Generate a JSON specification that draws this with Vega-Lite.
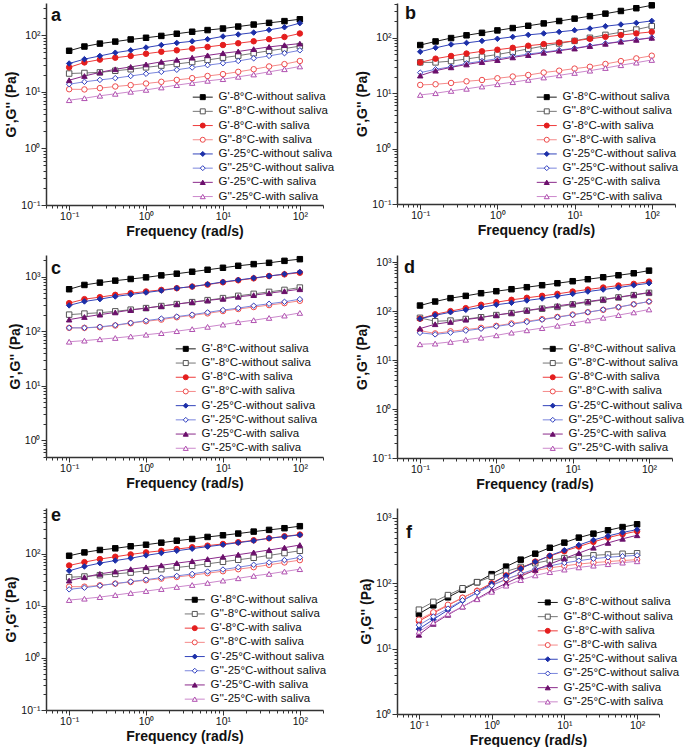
{
"$schema":"https://vega.github.io/schema/vega-lite/v6.json",
"padding":{"left":4,"top":0,"right":3,"bottom":0},
"background":"white",
"datasets":{
"series":[{"s":0,"name":"G'-8°C-without saliva"},{"s":1,"name":"G''-8°C-without saliva"},{"s":2,"name":"G'-8°C-with saliva"},{"s":3,"name":"G''-8°C-with saliva"},{"s":4,"name":"G'-25°C-without saliva"},{"s":5,"name":"G''-25°C-without saliva"},{"s":6,"name":"G'-25°C-with saliva"},{"s":7,"name":"G''-25°C-with saliva"}],
"pts":[
{"p":"a","s":0,"f":0.1,"v":53},{"p":"a","s":0,"f":0.158,"v":63},{"p":"a","s":0,"f":0.251,"v":71},{"p":"a","s":0,"f":0.398,"v":77},{"p":"a","s":0,"f":0.631,"v":84},{"p":"a","s":0,"f":1,"v":90},{"p":"a","s":0,"f":1.58,"v":97},{"p":"a","s":0,"f":2.51,"v":106},{"p":"a","s":0,"f":3.98,"v":115},{"p":"a","s":0,"f":6.31,"v":123},{"p":"a","s":0,"f":10,"v":131},{"p":"a","s":0,"f":15.8,"v":142},{"p":"a","s":0,"f":25.1,"v":154},{"p":"a","s":0,"f":39.8,"v":165},{"p":"a","s":0,"f":63.1,"v":177},{"p":"a","s":0,"f":100,"v":191},
{"p":"a","s":1,"f":0.1,"v":21},{"p":"a","s":1,"f":0.158,"v":21.5},{"p":"a","s":1,"f":0.251,"v":22},{"p":"a","s":1,"f":0.398,"v":23.5},{"p":"a","s":1,"f":0.631,"v":25},{"p":"a","s":1,"f":1,"v":27},{"p":"a","s":1,"f":1.58,"v":29},{"p":"a","s":1,"f":2.51,"v":31},{"p":"a","s":1,"f":3.98,"v":33.5},{"p":"a","s":1,"f":6.31,"v":36.5},{"p":"a","s":1,"f":10,"v":40},{"p":"a","s":1,"f":15.8,"v":43.5},{"p":"a","s":1,"f":25.1,"v":48},{"p":"a","s":1,"f":39.8,"v":53},{"p":"a","s":1,"f":63.1,"v":58},{"p":"a","s":1,"f":100,"v":64},
{"p":"a","s":2,"f":0.1,"v":27},{"p":"a","s":2,"f":0.158,"v":33},{"p":"a","s":2,"f":0.251,"v":37},{"p":"a","s":2,"f":0.398,"v":40},{"p":"a","s":2,"f":0.631,"v":43},{"p":"a","s":2,"f":1,"v":47},{"p":"a","s":2,"f":1.58,"v":51},{"p":"a","s":2,"f":2.51,"v":54},{"p":"a","s":2,"f":3.98,"v":58},{"p":"a","s":2,"f":6.31,"v":62},{"p":"a","s":2,"f":10,"v":67},{"p":"a","s":2,"f":15.8,"v":72},{"p":"a","s":2,"f":25.1,"v":78},{"p":"a","s":2,"f":39.8,"v":85},{"p":"a","s":2,"f":63.1,"v":93},{"p":"a","s":2,"f":100,"v":107},
{"p":"a","s":3,"f":0.1,"v":11.1},{"p":"a","s":3,"f":0.158,"v":11},{"p":"a","s":3,"f":0.251,"v":11.6},{"p":"a","s":3,"f":0.398,"v":12.4},{"p":"a","s":3,"f":0.631,"v":13.1},{"p":"a","s":3,"f":1,"v":14},{"p":"a","s":3,"f":1.58,"v":15},{"p":"a","s":3,"f":2.51,"v":16.2},{"p":"a","s":3,"f":3.98,"v":17.4},{"p":"a","s":3,"f":6.31,"v":19},{"p":"a","s":3,"f":10,"v":20.5},{"p":"a","s":3,"f":15.8,"v":22.5},{"p":"a","s":3,"f":25.1,"v":25},{"p":"a","s":3,"f":39.8,"v":28},{"p":"a","s":3,"f":63.1,"v":30.8},{"p":"a","s":3,"f":100,"v":35},
{"p":"a","s":4,"f":0.1,"v":31.6},{"p":"a","s":4,"f":0.158,"v":37.7},{"p":"a","s":4,"f":0.251,"v":43},{"p":"a","s":4,"f":0.398,"v":49},{"p":"a","s":4,"f":0.631,"v":54},{"p":"a","s":4,"f":1,"v":60.5},{"p":"a","s":4,"f":1.58,"v":67},{"p":"a","s":4,"f":2.51,"v":73},{"p":"a","s":4,"f":3.98,"v":78},{"p":"a","s":4,"f":6.31,"v":85},{"p":"a","s":4,"f":10,"v":95},{"p":"a","s":4,"f":15.8,"v":103},{"p":"a","s":4,"f":25.1,"v":111},{"p":"a","s":4,"f":39.8,"v":124},{"p":"a","s":4,"f":63.1,"v":138},{"p":"a","s":4,"f":100,"v":163},
{"p":"a","s":5,"f":0.1,"v":13.6},{"p":"a","s":5,"f":0.158,"v":15},{"p":"a","s":5,"f":0.251,"v":16.2},{"p":"a","s":5,"f":0.398,"v":17.4},{"p":"a","s":5,"f":0.631,"v":19},{"p":"a","s":5,"f":1,"v":20.8},{"p":"a","s":5,"f":1.58,"v":22.5},{"p":"a","s":5,"f":2.51,"v":24.5},{"p":"a","s":5,"f":3.98,"v":26.8},{"p":"a","s":5,"f":6.31,"v":29.5},{"p":"a","s":5,"f":10,"v":32},{"p":"a","s":5,"f":15.8,"v":35},{"p":"a","s":5,"f":25.1,"v":39},{"p":"a","s":5,"f":39.8,"v":43},{"p":"a","s":5,"f":63.1,"v":48},{"p":"a","s":5,"f":100,"v":54},
{"p":"a","s":6,"f":0.1,"v":16},{"p":"a","s":6,"f":0.158,"v":19},{"p":"a","s":6,"f":0.251,"v":22},{"p":"a","s":6,"f":0.398,"v":25},{"p":"a","s":6,"f":0.631,"v":27.5},{"p":"a","s":6,"f":1,"v":30.4},{"p":"a","s":6,"f":1.58,"v":33.8},{"p":"a","s":6,"f":2.51,"v":36.7},{"p":"a","s":6,"f":3.98,"v":40},{"p":"a","s":6,"f":6.31,"v":44},{"p":"a","s":6,"f":10,"v":48},{"p":"a","s":6,"f":15.8,"v":51.5},{"p":"a","s":6,"f":25.1,"v":56.6},{"p":"a","s":6,"f":39.8,"v":62},{"p":"a","s":6,"f":63.1,"v":66.6},{"p":"a","s":6,"f":100,"v":71},
{"p":"a","s":7,"f":0.1,"v":7.1},{"p":"a","s":7,"f":0.158,"v":7.7},{"p":"a","s":7,"f":0.251,"v":8.5},{"p":"a","s":7,"f":0.398,"v":9.2},{"p":"a","s":7,"f":0.631,"v":10},{"p":"a","s":7,"f":1,"v":10.8},{"p":"a","s":7,"f":1.58,"v":11.9},{"p":"a","s":7,"f":2.51,"v":13.1},{"p":"a","s":7,"f":3.98,"v":14.3},{"p":"a","s":7,"f":6.31,"v":15.6},{"p":"a","s":7,"f":10,"v":16.7},{"p":"a","s":7,"f":15.8,"v":18.4},{"p":"a","s":7,"f":25.1,"v":20.2},{"p":"a","s":7,"f":39.8,"v":22.5},{"p":"a","s":7,"f":63.1,"v":25},{"p":"a","s":7,"f":100,"v":28},
{"p":"b","s":0,"f":0.1,"v":74},{"p":"b","s":0,"f":0.158,"v":86},{"p":"b","s":0,"f":0.251,"v":99},{"p":"b","s":0,"f":0.398,"v":111},{"p":"b","s":0,"f":0.631,"v":123},{"p":"b","s":0,"f":1,"v":136},{"p":"b","s":0,"f":1.58,"v":150},{"p":"b","s":0,"f":2.51,"v":165},{"p":"b","s":0,"f":3.98,"v":182},{"p":"b","s":0,"f":6.31,"v":201},{"p":"b","s":0,"f":10,"v":222},{"p":"b","s":0,"f":15.8,"v":246},{"p":"b","s":0,"f":25.1,"v":273},{"p":"b","s":0,"f":39.8,"v":305},{"p":"b","s":0,"f":63.1,"v":342},{"p":"b","s":0,"f":100,"v":386},
{"p":"b","s":1,"f":0.1,"v":36},{"p":"b","s":1,"f":0.158,"v":36},{"p":"b","s":1,"f":0.251,"v":38},{"p":"b","s":1,"f":0.398,"v":41.5},{"p":"b","s":1,"f":0.631,"v":45.5},{"p":"b","s":1,"f":1,"v":50},{"p":"b","s":1,"f":1.58,"v":56},{"p":"b","s":1,"f":2.51,"v":63},{"p":"b","s":1,"f":3.98,"v":71},{"p":"b","s":1,"f":6.31,"v":79},{"p":"b","s":1,"f":10,"v":88},{"p":"b","s":1,"f":15.8,"v":100},{"p":"b","s":1,"f":25.1,"v":113},{"p":"b","s":1,"f":39.8,"v":126},{"p":"b","s":1,"f":63.1,"v":141},{"p":"b","s":1,"f":100,"v":162},
{"p":"b","s":2,"f":0.1,"v":36},{"p":"b","s":2,"f":0.158,"v":42},{"p":"b","s":2,"f":0.251,"v":47},{"p":"b","s":2,"f":0.398,"v":52},{"p":"b","s":2,"f":0.631,"v":57},{"p":"b","s":2,"f":1,"v":61},{"p":"b","s":2,"f":1.58,"v":66},{"p":"b","s":2,"f":2.51,"v":72},{"p":"b","s":2,"f":3.98,"v":77},{"p":"b","s":2,"f":6.31,"v":82},{"p":"b","s":2,"f":10,"v":88},{"p":"b","s":2,"f":15.8,"v":96},{"p":"b","s":2,"f":25.1,"v":104},{"p":"b","s":2,"f":39.8,"v":112},{"p":"b","s":2,"f":63.1,"v":120},{"p":"b","s":2,"f":100,"v":128},
{"p":"b","s":3,"f":0.1,"v":14.1},{"p":"b","s":3,"f":0.158,"v":14.5},{"p":"b","s":3,"f":0.251,"v":15.3},{"p":"b","s":3,"f":0.398,"v":16.4},{"p":"b","s":3,"f":0.631,"v":17.3},{"p":"b","s":3,"f":1,"v":18.6},{"p":"b","s":3,"f":1.58,"v":20},{"p":"b","s":3,"f":2.51,"v":21.3},{"p":"b","s":3,"f":3.98,"v":23.6},{"p":"b","s":3,"f":6.31,"v":25.5},{"p":"b","s":3,"f":10,"v":27.8},{"p":"b","s":3,"f":15.8,"v":30},{"p":"b","s":3,"f":25.1,"v":33.7},{"p":"b","s":3,"f":39.8,"v":38},{"p":"b","s":3,"f":63.1,"v":42.5},{"p":"b","s":3,"f":100,"v":47.5},
{"p":"b","s":4,"f":0.1,"v":56},{"p":"b","s":4,"f":0.158,"v":66},{"p":"b","s":4,"f":0.251,"v":76},{"p":"b","s":4,"f":0.398,"v":81},{"p":"b","s":4,"f":0.631,"v":88},{"p":"b","s":4,"f":1,"v":96},{"p":"b","s":4,"f":1.58,"v":104},{"p":"b","s":4,"f":2.51,"v":113},{"p":"b","s":4,"f":3.98,"v":120},{"p":"b","s":4,"f":6.31,"v":128},{"p":"b","s":4,"f":10,"v":137},{"p":"b","s":4,"f":15.8,"v":147},{"p":"b","s":4,"f":25.1,"v":162},{"p":"b","s":4,"f":39.8,"v":174},{"p":"b","s":4,"f":63.1,"v":186},{"p":"b","s":4,"f":100,"v":202},
{"p":"b","s":5,"f":0.1,"v":23.5},{"p":"b","s":5,"f":0.158,"v":27},{"p":"b","s":5,"f":0.251,"v":30},{"p":"b","s":5,"f":0.398,"v":34.5},{"p":"b","s":5,"f":0.631,"v":38},{"p":"b","s":5,"f":1,"v":42},{"p":"b","s":5,"f":1.58,"v":46},{"p":"b","s":5,"f":2.51,"v":51},{"p":"b","s":5,"f":3.98,"v":55},{"p":"b","s":5,"f":6.31,"v":60},{"p":"b","s":5,"f":10,"v":65},{"p":"b","s":5,"f":15.8,"v":72},{"p":"b","s":5,"f":25.1,"v":79},{"p":"b","s":5,"f":39.8,"v":86},{"p":"b","s":5,"f":63.1,"v":93},{"p":"b","s":5,"f":100,"v":101},
{"p":"b","s":6,"f":0.1,"v":20.8},{"p":"b","s":6,"f":0.158,"v":25.5},{"p":"b","s":6,"f":0.251,"v":29.3},{"p":"b","s":6,"f":0.398,"v":33},{"p":"b","s":6,"f":0.631,"v":36.5},{"p":"b","s":6,"f":1,"v":39.7},{"p":"b","s":6,"f":1.58,"v":44.3},{"p":"b","s":6,"f":2.51,"v":48.8},{"p":"b","s":6,"f":3.98,"v":53.7},{"p":"b","s":6,"f":6.31,"v":58.4},{"p":"b","s":6,"f":10,"v":64},{"p":"b","s":6,"f":15.8,"v":71},{"p":"b","s":6,"f":25.1,"v":78},{"p":"b","s":6,"f":39.8,"v":85},{"p":"b","s":6,"f":63.1,"v":92},{"p":"b","s":6,"f":100,"v":100},
{"p":"b","s":7,"f":0.1,"v":9.3},{"p":"b","s":7,"f":0.158,"v":10},{"p":"b","s":7,"f":0.251,"v":11},{"p":"b","s":7,"f":0.398,"v":12},{"p":"b","s":7,"f":0.631,"v":13.2},{"p":"b","s":7,"f":1,"v":14.5},{"p":"b","s":7,"f":1.58,"v":15.8},{"p":"b","s":7,"f":2.51,"v":17.4},{"p":"b","s":7,"f":3.98,"v":19.2},{"p":"b","s":7,"f":6.31,"v":21},{"p":"b","s":7,"f":10,"v":23.2},{"p":"b","s":7,"f":15.8,"v":25.5},{"p":"b","s":7,"f":25.1,"v":28.5},{"p":"b","s":7,"f":39.8,"v":32},{"p":"b","s":7,"f":63.1,"v":35.6},{"p":"b","s":7,"f":100,"v":39.8},
{"p":"c","s":0,"f":0.1,"v":588},{"p":"c","s":0,"f":0.158,"v":705},{"p":"c","s":0,"f":0.251,"v":778},{"p":"c","s":0,"f":0.398,"v":846},{"p":"c","s":0,"f":0.631,"v":907},{"p":"c","s":0,"f":1,"v":972},{"p":"c","s":0,"f":1.58,"v":1057},{"p":"c","s":0,"f":2.51,"v":1134},{"p":"c","s":0,"f":3.98,"v":1233},{"p":"c","s":0,"f":6.31,"v":1340},{"p":"c","s":0,"f":10,"v":1457},{"p":"c","s":0,"f":15.8,"v":1585},{"p":"c","s":0,"f":25.1,"v":1700},{"p":"c","s":0,"f":39.8,"v":1797},{"p":"c","s":0,"f":63.1,"v":1953},{"p":"c","s":0,"f":100,"v":2095},
{"p":"c","s":1,"f":0.1,"v":201},{"p":"c","s":1,"f":0.158,"v":210},{"p":"c","s":1,"f":0.251,"v":218},{"p":"c","s":1,"f":0.398,"v":231},{"p":"c","s":1,"f":0.631,"v":248},{"p":"c","s":1,"f":1,"v":265},{"p":"c","s":1,"f":1.58,"v":289},{"p":"c","s":1,"f":2.51,"v":314},{"p":"c","s":1,"f":3.98,"v":341},{"p":"c","s":1,"f":6.31,"v":371},{"p":"c","s":1,"f":10,"v":404},{"p":"c","s":1,"f":15.8,"v":445},{"p":"c","s":1,"f":25.1,"v":484},{"p":"c","s":1,"f":39.8,"v":526},{"p":"c","s":1,"f":63.1,"v":572},{"p":"c","s":1,"f":100,"v":631},
{"p":"c","s":2,"f":0.1,"v":327},{"p":"c","s":2,"f":0.158,"v":387},{"p":"c","s":2,"f":0.251,"v":421},{"p":"c","s":2,"f":0.398,"v":464},{"p":"c","s":2,"f":0.631,"v":498},{"p":"c","s":2,"f":1,"v":534},{"p":"c","s":2,"f":1.58,"v":572},{"p":"c","s":2,"f":2.51,"v":614},{"p":"c","s":2,"f":3.98,"v":658},{"p":"c","s":2,"f":6.31,"v":715},{"p":"c","s":2,"f":10,"v":789},{"p":"c","s":2,"f":15.8,"v":858},{"p":"c","s":2,"f":25.1,"v":932},{"p":"c","s":2,"f":39.8,"v":1028},{"p":"c","s":2,"f":63.1,"v":1103},{"p":"c","s":2,"f":100,"v":1182},
{"p":"c","s":3,"f":0.1,"v":115},{"p":"c","s":3,"f":0.158,"v":115},{"p":"c","s":3,"f":0.251,"v":118},{"p":"c","s":3,"f":0.398,"v":127},{"p":"c","s":3,"f":0.631,"v":140},{"p":"c","s":3,"f":1,"v":152},{"p":"c","s":3,"f":1.58,"v":163},{"p":"c","s":3,"f":2.51,"v":180},{"p":"c","s":3,"f":3.98,"v":195},{"p":"c","s":3,"f":6.31,"v":212},{"p":"c","s":3,"f":10,"v":234},{"p":"c","s":3,"f":15.8,"v":255},{"p":"c","s":3,"f":25.1,"v":277},{"p":"c","s":3,"f":39.8,"v":301},{"p":"c","s":3,"f":63.1,"v":327},{"p":"c","s":3,"f":100,"v":361},
{"p":"c","s":4,"f":0.1,"v":297},{"p":"c","s":4,"f":0.158,"v":351},{"p":"c","s":4,"f":0.251,"v":387},{"p":"c","s":4,"f":0.398,"v":433},{"p":"c","s":4,"f":0.631,"v":471},{"p":"c","s":4,"f":1,"v":512},{"p":"c","s":4,"f":1.58,"v":556},{"p":"c","s":4,"f":2.51,"v":614},{"p":"c","s":4,"f":3.98,"v":658},{"p":"c","s":4,"f":6.31,"v":725},{"p":"c","s":4,"f":10,"v":800},{"p":"c","s":4,"f":15.8,"v":870},{"p":"c","s":4,"f":25.1,"v":946},{"p":"c","s":4,"f":39.8,"v":1028},{"p":"c","s":4,"f":63.1,"v":1118},{"p":"c","s":4,"f":100,"v":1216},
{"p":"c","s":5,"f":0.1,"v":115},{"p":"c","s":5,"f":0.158,"v":115},{"p":"c","s":5,"f":0.251,"v":120},{"p":"c","s":5,"f":0.398,"v":129},{"p":"c","s":5,"f":0.631,"v":142},{"p":"c","s":5,"f":1,"v":156},{"p":"c","s":5,"f":1.58,"v":170},{"p":"c","s":5,"f":2.51,"v":185},{"p":"c","s":5,"f":3.98,"v":201},{"p":"c","s":5,"f":6.31,"v":221},{"p":"c","s":5,"f":10,"v":244},{"p":"c","s":5,"f":15.8,"v":265},{"p":"c","s":5,"f":25.1,"v":293},{"p":"c","s":5,"f":39.8,"v":318},{"p":"c","s":5,"f":63.1,"v":346},{"p":"c","s":5,"f":100,"v":387},
{"p":"c","s":6,"f":0.1,"v":163},{"p":"c","s":6,"f":0.158,"v":182},{"p":"c","s":6,"f":0.251,"v":201},{"p":"c","s":6,"f":0.398,"v":221},{"p":"c","s":6,"f":0.631,"v":244},{"p":"c","s":6,"f":1,"v":265},{"p":"c","s":6,"f":1.58,"v":289},{"p":"c","s":6,"f":2.51,"v":314},{"p":"c","s":6,"f":3.98,"v":341},{"p":"c","s":6,"f":6.31,"v":366},{"p":"c","s":6,"f":10,"v":393},{"p":"c","s":6,"f":15.8,"v":427},{"p":"c","s":6,"f":25.1,"v":458},{"p":"c","s":6,"f":39.8,"v":498},{"p":"c","s":6,"f":63.1,"v":541},{"p":"c","s":6,"f":100,"v":588},
{"p":"c","s":7,"f":0.1,"v":64},{"p":"c","s":7,"f":0.158,"v":67},{"p":"c","s":7,"f":0.251,"v":71},{"p":"c","s":7,"f":0.398,"v":75},{"p":"c","s":7,"f":0.631,"v":80},{"p":"c","s":7,"f":1,"v":86},{"p":"c","s":7,"f":1.58,"v":92},{"p":"c","s":7,"f":2.51,"v":100},{"p":"c","s":7,"f":3.98,"v":109},{"p":"c","s":7,"f":6.31,"v":120},{"p":"c","s":7,"f":10,"v":132},{"p":"c","s":7,"f":15.8,"v":146},{"p":"c","s":7,"f":25.1,"v":159},{"p":"c","s":7,"f":39.8,"v":175},{"p":"c","s":7,"f":63.1,"v":193},{"p":"c","s":7,"f":100,"v":216},
{"p":"d","s":0,"f":0.1,"v":130},{"p":"d","s":0,"f":0.158,"v":157},{"p":"d","s":0,"f":0.251,"v":184},{"p":"d","s":0,"f":0.398,"v":205},{"p":"d","s":0,"f":0.631,"v":232},{"p":"d","s":0,"f":1,"v":255},{"p":"d","s":0,"f":1.58,"v":280},{"p":"d","s":0,"f":2.51,"v":308},{"p":"d","s":0,"f":3.98,"v":338},{"p":"d","s":0,"f":6.31,"v":371},{"p":"d","s":0,"f":10,"v":408},{"p":"d","s":0,"f":15.8,"v":448},{"p":"d","s":0,"f":25.1,"v":491},{"p":"d","s":0,"f":39.8,"v":540},{"p":"d","s":0,"f":63.1,"v":593},{"p":"d","s":0,"f":100,"v":671},
{"p":"d","s":1,"f":0.1,"v":73},{"p":"d","s":1,"f":0.158,"v":62},{"p":"d","s":1,"f":0.251,"v":64},{"p":"d","s":1,"f":0.398,"v":69},{"p":"d","s":1,"f":0.631,"v":75},{"p":"d","s":1,"f":1,"v":83},{"p":"d","s":1,"f":1.58,"v":91},{"p":"d","s":1,"f":2.51,"v":102},{"p":"d","s":1,"f":3.98,"v":112},{"p":"d","s":1,"f":6.31,"v":122},{"p":"d","s":1,"f":10,"v":137},{"p":"d","s":1,"f":15.8,"v":152},{"p":"d","s":1,"f":25.1,"v":170},{"p":"d","s":1,"f":39.8,"v":190},{"p":"d","s":1,"f":63.1,"v":212},{"p":"d","s":1,"f":100,"v":236},
{"p":"d","s":2,"f":0.1,"v":70},{"p":"d","s":2,"f":0.158,"v":86},{"p":"d","s":2,"f":0.251,"v":100},{"p":"d","s":2,"f":0.398,"v":115},{"p":"d","s":2,"f":0.631,"v":135},{"p":"d","s":2,"f":1,"v":152},{"p":"d","s":2,"f":1.58,"v":170},{"p":"d","s":2,"f":2.51,"v":187},{"p":"d","s":2,"f":3.98,"v":205},{"p":"d","s":2,"f":6.31,"v":225},{"p":"d","s":2,"f":10,"v":251},{"p":"d","s":2,"f":15.8,"v":276},{"p":"d","s":2,"f":25.1,"v":303},{"p":"d","s":2,"f":39.8,"v":333},{"p":"d","s":2,"f":63.1,"v":360},{"p":"d","s":2,"f":100,"v":400},
{"p":"d","s":3,"f":0.1,"v":40},{"p":"d","s":3,"f":0.158,"v":35},{"p":"d","s":3,"f":0.251,"v":38.6},{"p":"d","s":3,"f":0.398,"v":42},{"p":"d","s":3,"f":0.631,"v":45.5},{"p":"d","s":3,"f":1,"v":50},{"p":"d","s":3,"f":1.58,"v":56},{"p":"d","s":3,"f":2.51,"v":62},{"p":"d","s":3,"f":3.98,"v":68.5},{"p":"d","s":3,"f":6.31,"v":76},{"p":"d","s":3,"f":10,"v":85},{"p":"d","s":3,"f":15.8,"v":95},{"p":"d","s":3,"f":25.1,"v":106},{"p":"d","s":3,"f":39.8,"v":120},{"p":"d","s":3,"f":63.1,"v":138},{"p":"d","s":3,"f":100,"v":157},
{"p":"d","s":4,"f":0.1,"v":70},{"p":"d","s":4,"f":0.158,"v":82},{"p":"d","s":4,"f":0.251,"v":95},{"p":"d","s":4,"f":0.398,"v":106},{"p":"d","s":4,"f":0.631,"v":120},{"p":"d","s":4,"f":1,"v":135},{"p":"d","s":4,"f":1.58,"v":148},{"p":"d","s":4,"f":2.51,"v":165},{"p":"d","s":4,"f":3.98,"v":181},{"p":"d","s":4,"f":6.31,"v":202},{"p":"d","s":4,"f":10,"v":225},{"p":"d","s":4,"f":15.8,"v":251},{"p":"d","s":4,"f":25.1,"v":276},{"p":"d","s":4,"f":39.8,"v":303},{"p":"d","s":4,"f":63.1,"v":338},{"p":"d","s":4,"f":100,"v":371},
{"p":"d","s":5,"f":0.1,"v":36},{"p":"d","s":5,"f":0.158,"v":33.5},{"p":"d","s":5,"f":0.251,"v":36.3},{"p":"d","s":5,"f":0.398,"v":39.8},{"p":"d","s":5,"f":0.631,"v":43.7},{"p":"d","s":5,"f":1,"v":48.7},{"p":"d","s":5,"f":1.58,"v":54},{"p":"d","s":5,"f":2.51,"v":60},{"p":"d","s":5,"f":3.98,"v":67},{"p":"d","s":5,"f":6.31,"v":75},{"p":"d","s":5,"f":10,"v":84},{"p":"d","s":5,"f":15.8,"v":95},{"p":"d","s":5,"f":25.1,"v":107},{"p":"d","s":5,"f":39.8,"v":121},{"p":"d","s":5,"f":63.1,"v":138},{"p":"d","s":5,"f":100,"v":157},
{"p":"d","s":6,"f":0.1,"v":44},{"p":"d","s":6,"f":0.158,"v":54},{"p":"d","s":6,"f":0.251,"v":60},{"p":"d","s":6,"f":0.398,"v":67},{"p":"d","s":6,"f":0.631,"v":74},{"p":"d","s":6,"f":1,"v":83},{"p":"d","s":6,"f":1.58,"v":92},{"p":"d","s":6,"f":2.51,"v":103},{"p":"d","s":6,"f":3.98,"v":115},{"p":"d","s":6,"f":6.31,"v":128},{"p":"d","s":6,"f":10,"v":141},{"p":"d","s":6,"f":15.8,"v":157},{"p":"d","s":6,"f":25.1,"v":173},{"p":"d","s":6,"f":39.8,"v":193},{"p":"d","s":6,"f":63.1,"v":215},{"p":"d","s":6,"f":100,"v":240},
{"p":"d","s":7,"f":0.1,"v":21},{"p":"d","s":7,"f":0.158,"v":21.7},{"p":"d","s":7,"f":0.251,"v":23.5},{"p":"d","s":7,"f":0.398,"v":26},{"p":"d","s":7,"f":0.631,"v":28.6},{"p":"d","s":7,"f":1,"v":32},{"p":"d","s":7,"f":1.58,"v":36.3},{"p":"d","s":7,"f":2.51,"v":40.5},{"p":"d","s":7,"f":3.98,"v":45},{"p":"d","s":7,"f":6.31,"v":50.3},{"p":"d","s":7,"f":10,"v":57},{"p":"d","s":7,"f":15.8,"v":64.5},{"p":"d","s":7,"f":25.1,"v":73},{"p":"d","s":7,"f":39.8,"v":83},{"p":"d","s":7,"f":63.1,"v":94},{"p":"d","s":7,"f":100,"v":108},
{"p":"e","s":0,"f":0.1,"v":91.5},{"p":"e","s":0,"f":0.158,"v":106},{"p":"e","s":0,"f":0.251,"v":118},{"p":"e","s":0,"f":0.398,"v":127},{"p":"e","s":0,"f":0.631,"v":139},{"p":"e","s":0,"f":1,"v":149},{"p":"e","s":0,"f":1.58,"v":163},{"p":"e","s":0,"f":2.51,"v":178},{"p":"e","s":0,"f":3.98,"v":192},{"p":"e","s":0,"f":6.31,"v":210},{"p":"e","s":0,"f":10,"v":226},{"p":"e","s":0,"f":15.8,"v":244},{"p":"e","s":0,"f":25.1,"v":266},{"p":"e","s":0,"f":39.8,"v":287},{"p":"e","s":0,"f":63.1,"v":309},{"p":"e","s":0,"f":100,"v":338},
{"p":"e","s":1,"f":0.1,"v":35.4},{"p":"e","s":1,"f":0.158,"v":36.5},{"p":"e","s":1,"f":0.251,"v":38.7},{"p":"e","s":1,"f":0.398,"v":41},{"p":"e","s":1,"f":0.631,"v":43.5},{"p":"e","s":1,"f":1,"v":47},{"p":"e","s":1,"f":1.58,"v":50.5},{"p":"e","s":1,"f":2.51,"v":54.4},{"p":"e","s":1,"f":3.98,"v":58.5},{"p":"e","s":1,"f":6.31,"v":64},{"p":"e","s":1,"f":10,"v":70},{"p":"e","s":1,"f":15.8,"v":76.5},{"p":"e","s":1,"f":25.1,"v":83.7},{"p":"e","s":1,"f":39.8,"v":93},{"p":"e","s":1,"f":63.1,"v":103},{"p":"e","s":1,"f":100,"v":114},
{"p":"e","s":2,"f":0.1,"v":59.5},{"p":"e","s":2,"f":0.158,"v":69},{"p":"e","s":2,"f":0.251,"v":79},{"p":"e","s":2,"f":0.398,"v":87.5},{"p":"e","s":2,"f":0.631,"v":97},{"p":"e","s":2,"f":1,"v":106},{"p":"e","s":2,"f":1.58,"v":114},{"p":"e","s":2,"f":2.51,"v":123},{"p":"e","s":2,"f":3.98,"v":133},{"p":"e","s":2,"f":6.31,"v":143},{"p":"e","s":2,"f":10,"v":154},{"p":"e","s":2,"f":15.8,"v":166},{"p":"e","s":2,"f":25.1,"v":181},{"p":"e","s":2,"f":39.8,"v":198},{"p":"e","s":2,"f":63.1,"v":216},{"p":"e","s":2,"f":100,"v":233},
{"p":"e","s":3,"f":0.1,"v":23.3},{"p":"e","s":3,"f":0.158,"v":23.3},{"p":"e","s":3,"f":0.251,"v":24.7},{"p":"e","s":3,"f":0.398,"v":26.7},{"p":"e","s":3,"f":0.631,"v":28.7},{"p":"e","s":3,"f":1,"v":31},{"p":"e","s":3,"f":1.58,"v":33.3},{"p":"e","s":3,"f":2.51,"v":35.8},{"p":"e","s":3,"f":3.98,"v":38.7},{"p":"e","s":3,"f":6.31,"v":42.3},{"p":"e","s":3,"f":10,"v":46.2},{"p":"e","s":3,"f":15.8,"v":50.5},{"p":"e","s":3,"f":25.1,"v":55.2},{"p":"e","s":3,"f":39.8,"v":61.3},{"p":"e","s":3,"f":63.1,"v":68},{"p":"e","s":3,"f":100,"v":75.4},
{"p":"e","s":4,"f":0.1,"v":47},{"p":"e","s":4,"f":0.158,"v":57},{"p":"e","s":4,"f":0.251,"v":66},{"p":"e","s":4,"f":0.398,"v":74},{"p":"e","s":4,"f":0.631,"v":82},{"p":"e","s":4,"f":1,"v":93},{"p":"e","s":4,"f":1.58,"v":103},{"p":"e","s":4,"f":2.51,"v":114},{"p":"e","s":4,"f":3.98,"v":125},{"p":"e","s":4,"f":6.31,"v":137},{"p":"e","s":4,"f":10,"v":149},{"p":"e","s":4,"f":15.8,"v":163},{"p":"e","s":4,"f":25.1,"v":178},{"p":"e","s":4,"f":39.8,"v":198},{"p":"e","s":4,"f":63.1,"v":213},{"p":"e","s":4,"f":100,"v":230},
{"p":"e","s":5,"f":0.1,"v":20.7},{"p":"e","s":5,"f":0.158,"v":22.3},{"p":"e","s":5,"f":0.251,"v":24.4},{"p":"e","s":5,"f":0.398,"v":26.7},{"p":"e","s":5,"f":0.631,"v":29.2},{"p":"e","s":5,"f":1,"v":31.8},{"p":"e","s":5,"f":1.58,"v":34.8},{"p":"e","s":5,"f":2.51,"v":37.5},{"p":"e","s":5,"f":3.98,"v":41},{"p":"e","s":5,"f":6.31,"v":45.5},{"p":"e","s":5,"f":10,"v":49.7},{"p":"e","s":5,"f":15.8,"v":55},{"p":"e","s":5,"f":25.1,"v":61.3},{"p":"e","s":5,"f":39.8,"v":68},{"p":"e","s":5,"f":63.1,"v":75.4},{"p":"e","s":5,"f":100,"v":85},
{"p":"e","s":6,"f":0.1,"v":30.5},{"p":"e","s":6,"f":0.158,"v":35.4},{"p":"e","s":6,"f":0.251,"v":41},{"p":"e","s":6,"f":0.398,"v":45.5},{"p":"e","s":6,"f":0.631,"v":50.5},{"p":"e","s":6,"f":1,"v":55},{"p":"e","s":6,"f":1.58,"v":60},{"p":"e","s":6,"f":2.51,"v":66},{"p":"e","s":6,"f":3.98,"v":72},{"p":"e","s":6,"f":6.31,"v":79},{"p":"e","s":6,"f":10,"v":87.5},{"p":"e","s":6,"f":15.8,"v":96},{"p":"e","s":6,"f":25.1,"v":106},{"p":"e","s":6,"f":39.8,"v":118},{"p":"e","s":6,"f":63.1,"v":131},{"p":"e","s":6,"f":100,"v":147},
{"p":"e","s":7,"f":0.1,"v":12.9},{"p":"e","s":7,"f":0.158,"v":13.7},{"p":"e","s":7,"f":0.251,"v":14.7},{"p":"e","s":7,"f":0.398,"v":16.1},{"p":"e","s":7,"f":0.631,"v":17.6},{"p":"e","s":7,"f":1,"v":19.2},{"p":"e","s":7,"f":1.58,"v":21},{"p":"e","s":7,"f":2.51,"v":23},{"p":"e","s":7,"f":3.98,"v":25.1},{"p":"e","s":7,"f":6.31,"v":27.5},{"p":"e","s":7,"f":10,"v":30.5},{"p":"e","s":7,"f":15.8,"v":33.8},{"p":"e","s":7,"f":25.1,"v":37.5},{"p":"e","s":7,"f":39.8,"v":41},{"p":"e","s":7,"f":63.1,"v":45.5},{"p":"e","s":7,"f":100,"v":50.5},
{"p":"f","s":0,"f":0.1,"v":34},{"p":"f","s":0,"f":0.158,"v":46},{"p":"f","s":0,"f":0.251,"v":61},{"p":"f","s":0,"f":0.398,"v":80},{"p":"f","s":0,"f":0.631,"v":104},{"p":"f","s":0,"f":1,"v":138},{"p":"f","s":0,"f":1.58,"v":180},{"p":"f","s":0,"f":2.51,"v":230},{"p":"f","s":0,"f":3.98,"v":284},{"p":"f","s":0,"f":6.31,"v":350},{"p":"f","s":0,"f":10,"v":419},{"p":"f","s":0,"f":15.8,"v":500},{"p":"f","s":0,"f":25.1,"v":575},{"p":"f","s":0,"f":39.8,"v":647},{"p":"f","s":0,"f":63.1,"v":725},{"p":"f","s":0,"f":100,"v":800},
{"p":"f","s":1,"f":0.1,"v":39.5},{"p":"f","s":1,"f":0.158,"v":52},{"p":"f","s":1,"f":0.251,"v":66},{"p":"f","s":1,"f":0.398,"v":84},{"p":"f","s":1,"f":0.631,"v":104},{"p":"f","s":1,"f":1,"v":126},{"p":"f","s":1,"f":1.58,"v":152},{"p":"f","s":1,"f":2.51,"v":178},{"p":"f","s":1,"f":3.98,"v":203},{"p":"f","s":1,"f":6.31,"v":225},{"p":"f","s":1,"f":10,"v":243},{"p":"f","s":1,"f":15.8,"v":257},{"p":"f","s":1,"f":25.1,"v":268},{"p":"f","s":1,"f":39.8,"v":276},{"p":"f","s":1,"f":63.1,"v":283},{"p":"f","s":1,"f":100,"v":288},
{"p":"f","s":2,"f":0.1,"v":26.3},{"p":"f","s":2,"f":0.158,"v":35},{"p":"f","s":2,"f":0.251,"v":46},{"p":"f","s":2,"f":0.398,"v":60},{"p":"f","s":2,"f":0.631,"v":77},{"p":"f","s":2,"f":1,"v":100},{"p":"f","s":2,"f":1.58,"v":132},{"p":"f","s":2,"f":2.51,"v":170},{"p":"f","s":2,"f":3.98,"v":215},{"p":"f","s":2,"f":6.31,"v":262},{"p":"f","s":2,"f":10,"v":310},{"p":"f","s":2,"f":15.8,"v":365},{"p":"f","s":2,"f":25.1,"v":430},{"p":"f","s":2,"f":39.8,"v":500},{"p":"f","s":2,"f":63.1,"v":565},{"p":"f","s":2,"f":100,"v":626},
{"p":"f","s":3,"f":0.1,"v":27.8},{"p":"f","s":3,"f":0.158,"v":36},{"p":"f","s":3,"f":0.251,"v":47},{"p":"f","s":3,"f":0.398,"v":60},{"p":"f","s":3,"f":0.631,"v":76},{"p":"f","s":3,"f":1,"v":95},{"p":"f","s":3,"f":1.58,"v":115},{"p":"f","s":3,"f":2.51,"v":137},{"p":"f","s":3,"f":3.98,"v":157},{"p":"f","s":3,"f":6.31,"v":172},{"p":"f","s":3,"f":10,"v":185},{"p":"f","s":3,"f":15.8,"v":197},{"p":"f","s":3,"f":25.1,"v":207},{"p":"f","s":3,"f":39.8,"v":215},{"p":"f","s":3,"f":63.1,"v":223},{"p":"f","s":3,"f":100,"v":230},
{"p":"f","s":4,"f":0.1,"v":19.9},{"p":"f","s":4,"f":0.158,"v":28},{"p":"f","s":4,"f":0.251,"v":39},{"p":"f","s":4,"f":0.398,"v":54},{"p":"f","s":4,"f":0.631,"v":72},{"p":"f","s":4,"f":1,"v":98},{"p":"f","s":4,"f":1.58,"v":130},{"p":"f","s":4,"f":2.51,"v":168},{"p":"f","s":4,"f":3.98,"v":213},{"p":"f","s":4,"f":6.31,"v":265},{"p":"f","s":4,"f":10,"v":320},{"p":"f","s":4,"f":15.8,"v":385},{"p":"f","s":4,"f":25.1,"v":460},{"p":"f","s":4,"f":39.8,"v":530},{"p":"f","s":4,"f":63.1,"v":600},{"p":"f","s":4,"f":100,"v":663},
{"p":"f","s":5,"f":0.1,"v":22.9},{"p":"f","s":5,"f":0.158,"v":31},{"p":"f","s":5,"f":0.251,"v":41},{"p":"f","s":5,"f":0.398,"v":55},{"p":"f","s":5,"f":0.631,"v":72},{"p":"f","s":5,"f":1,"v":92},{"p":"f","s":5,"f":1.58,"v":115},{"p":"f","s":5,"f":2.51,"v":140},{"p":"f","s":5,"f":3.98,"v":165},{"p":"f","s":5,"f":6.31,"v":185},{"p":"f","s":5,"f":10,"v":205},{"p":"f","s":5,"f":15.8,"v":222},{"p":"f","s":5,"f":25.1,"v":238},{"p":"f","s":5,"f":39.8,"v":250},{"p":"f","s":5,"f":63.1,"v":260},{"p":"f","s":5,"f":100,"v":268},
{"p":"f","s":6,"f":0.1,"v":16.3},{"p":"f","s":6,"f":0.158,"v":24},{"p":"f","s":6,"f":0.251,"v":33},{"p":"f","s":6,"f":0.398,"v":44},{"p":"f","s":6,"f":0.631,"v":58},{"p":"f","s":6,"f":1,"v":78},{"p":"f","s":6,"f":1.58,"v":100},{"p":"f","s":6,"f":2.51,"v":128},{"p":"f","s":6,"f":3.98,"v":160},{"p":"f","s":6,"f":6.31,"v":197},{"p":"f","s":6,"f":10,"v":240},{"p":"f","s":6,"f":15.8,"v":290},{"p":"f","s":6,"f":25.1,"v":350},{"p":"f","s":6,"f":39.8,"v":415},{"p":"f","s":6,"f":63.1,"v":480},{"p":"f","s":6,"f":100,"v":543},
{"p":"f","s":7,"f":0.1,"v":18.1},{"p":"f","s":7,"f":0.158,"v":25},{"p":"f","s":7,"f":0.251,"v":34},{"p":"f","s":7,"f":0.398,"v":44},{"p":"f","s":7,"f":0.631,"v":57},{"p":"f","s":7,"f":1,"v":74},{"p":"f","s":7,"f":1.58,"v":92},{"p":"f","s":7,"f":2.51,"v":112},{"p":"f","s":7,"f":3.98,"v":132},{"p":"f","s":7,"f":6.31,"v":148},{"p":"f","s":7,"f":10,"v":162},{"p":"f","s":7,"f":15.8,"v":175},{"p":"f","s":7,"f":25.1,"v":186},{"p":"f","s":7,"f":39.8,"v":196},{"p":"f","s":7,"f":63.1,"v":207},{"p":"f","s":7,"f":100,"v":217}
]},
"data":{"name":"pts"},
"columns":2,
"spacing":{"row":15,"column":20},
"resolve":{"legend":{"color":"independent","stroke":"independent","fill":"independent","shape":"independent"}},
"concat":[
{"width":277,"height":202,
"title":{"text":"a","anchor":"start","frame":"group","offset":-22,"dx":5},
"transform":[{"filter":"datum.p==='a'"},{"lookup":"s","from":{"data":{"name":"series"},"key":"s","fields":["name"]}}],
"encoding":{
"x":{"field":"f","type":"quantitative","scale":{"type":"log","domain":[0.05,200],"nice":false},"axis":{"title":"Frequency (rad/s)","values":[0.05,0.06,0.07,0.08,0.09,0.1,0.2,0.3,0.4,0.5,0.6,0.7,0.8,0.9,1,2,3,4,5,6,7,8,9,10,20,30,40,50,60,70,80,90,100,200],"labelExpr":"abs(log(datum.value)/LN10-round(log(datum.value)/LN10))<0.01?'10'+['⁻¹','⁰','¹','²','³'][round(log(datum.value)/LN10)+1]:''","labelFontSize":{"condition":{"test":"abs(log(datum.value)/LN10-round(log(datum.value)/LN10))<0.01","value":10.5},"value":0},"tickSize":{"condition":{"test":"abs(log(datum.value)/LN10-round(log(datum.value)/LN10))<0.01","value":5},"value":3}}},
"y":{"field":"v","type":"quantitative","scale":{"type":"log","domain":[0.1,370],"nice":false},"axis":{"title":"G',G'' (Pa)","values":[0.1,0.2,0.3,0.4,0.5,0.6,0.7,0.8,0.9,1,2,3,4,5,6,7,8,9,10,20,30,40,50,60,70,80,90,100,200,300],"labelExpr":"abs(log(datum.value)/LN10-round(log(datum.value)/LN10))<0.01?'10'+['⁻¹','⁰','¹','²','³'][round(log(datum.value)/LN10)+1]:''","labelFontSize":{"condition":{"test":"abs(log(datum.value)/LN10-round(log(datum.value)/LN10))<0.01","value":10.5},"value":0},"tickSize":{"condition":{"test":"abs(log(datum.value)/LN10-round(log(datum.value)/LN10))<0.01","value":5},"value":3}}}},
"layer":[
{"mark":{"type":"line","strokeWidth":1},"encoding":{"color":{"field":"name","type":"nominal","sort":{"field":"s","op":"min"},"scale":{"range":["#1a1a1a","#777777","#ef3b3b","#f58a8a","#3344bb","#7b86dd","#8b2a8b","#cc88cc"]},"legend":{"title":null,"orient":"none","legendX":151,"legendY":88.4,"symbolType":"M-4,0H4","labelOpacity":0}}}},
{"mark":{"type":"point","size":30,"strokeWidth":1,"opacity":1},"encoding":{
"stroke":{"field":"name","type":"nominal","scale":{"domain":["G'-8°C-without saliva","G''-8°C-without saliva","G'-8°C-with saliva","G''-8°C-with saliva","G'-25°C-without saliva","G''-25°C-without saliva","G'-25°C-with saliva","G''-25°C-with saliva"],"range":["#000000","#555555","#e41e1e","#ee4a4a","#1c2fa8","#3040c0","#6b0f6b","#b050b0"]},"legend":{"title":null,"orient":"none","legendX":151,"legendY":88.4}},
"fill":{"field":"name","type":"nominal","scale":{"domain":["G'-8°C-without saliva","G''-8°C-without saliva","G'-8°C-with saliva","G''-8°C-with saliva","G'-25°C-without saliva","G''-25°C-without saliva","G'-25°C-with saliva","G''-25°C-with saliva"],"range":["#000000","#ffffff","#e41e1e","#ffffff","#1c2fa8","#ffffff","#6b0f6b","#ffffff"]},"legend":{"title":null,"orient":"none","legendX":151,"legendY":88.4}},
"shape":{"field":"name","type":"nominal","scale":{"domain":["G'-8°C-without saliva","G''-8°C-without saliva","G'-8°C-with saliva","G''-8°C-with saliva","G'-25°C-without saliva","G''-25°C-without saliva","G'-25°C-with saliva","G''-25°C-with saliva"],"range":["square","square","circle","circle","diamond","diamond","triangle-up","triangle-up"]},"legend":{"title":null,"orient":"none","legendX":151,"legendY":88.4}}}}
]},
{"width":278,"height":201,
"title":{"text":"b","anchor":"start","frame":"group","offset":-22,"dx":8},
"transform":[{"filter":"datum.p==='b'"},{"lookup":"s","from":{"data":{"name":"series"},"key":"s","fields":["name"]}}],
"encoding":{
"x":{"field":"f","type":"quantitative","scale":{"type":"log","domain":[0.05,200],"nice":false},"axis":{"title":"Frequency (rad/s)","values":[0.05,0.06,0.07,0.08,0.09,0.1,0.2,0.3,0.4,0.5,0.6,0.7,0.8,0.9,1,2,3,4,5,6,7,8,9,10,20,30,40,50,60,70,80,90,100,200],"labelExpr":"abs(log(datum.value)/LN10-round(log(datum.value)/LN10))<0.01?'10'+['⁻¹','⁰','¹','²','³'][round(log(datum.value)/LN10)+1]:''","labelFontSize":{"condition":{"test":"abs(log(datum.value)/LN10-round(log(datum.value)/LN10))<0.01","value":10.5},"value":0},"tickSize":{"condition":{"test":"abs(log(datum.value)/LN10-round(log(datum.value)/LN10))<0.01","value":5},"value":3}}},
"y":{"field":"v","type":"quantitative","scale":{"type":"log","domain":[0.1,425],"nice":false},"axis":{"title":"G',G'' (Pa)","values":[0.1,0.2,0.3,0.4,0.5,0.6,0.7,0.8,0.9,1,2,3,4,5,6,7,8,9,10,20,30,40,50,60,70,80,90,100,200,300,400],"labelExpr":"abs(log(datum.value)/LN10-round(log(datum.value)/LN10))<0.01?'10'+['⁻¹','⁰','¹','²','³'][round(log(datum.value)/LN10)+1]:''","labelFontSize":{"condition":{"test":"abs(log(datum.value)/LN10-round(log(datum.value)/LN10))<0.01","value":10.5},"value":0},"tickSize":{"condition":{"test":"abs(log(datum.value)/LN10-round(log(datum.value)/LN10))<0.01","value":5},"value":3}}}},
"layer":[
{"mark":{"type":"line","strokeWidth":1},"encoding":{"color":{"field":"name","type":"nominal","sort":{"field":"s","op":"min"},"scale":{"range":["#1a1a1a","#777777","#ef3b3b","#f58a8a","#3344bb","#7b86dd","#8b2a8b","#cc88cc"]},"legend":{"title":null,"orient":"none","legendX":144,"legendY":88.4,"symbolType":"M-4,0H4","labelOpacity":0}}}},
{"mark":{"type":"point","size":30,"strokeWidth":1,"opacity":1},"encoding":{
"stroke":{"field":"name","type":"nominal","scale":{"domain":["G'-8°C-without saliva","G''-8°C-without saliva","G'-8°C-with saliva","G''-8°C-with saliva","G'-25°C-without saliva","G''-25°C-without saliva","G'-25°C-with saliva","G''-25°C-with saliva"],"range":["#000000","#555555","#e41e1e","#ee4a4a","#1c2fa8","#3040c0","#6b0f6b","#b050b0"]},"legend":{"title":null,"orient":"none","legendX":144,"legendY":88.4}},
"fill":{"field":"name","type":"nominal","scale":{"domain":["G'-8°C-without saliva","G''-8°C-without saliva","G'-8°C-with saliva","G''-8°C-with saliva","G'-25°C-without saliva","G''-25°C-without saliva","G'-25°C-with saliva","G''-25°C-with saliva"],"range":["#000000","#ffffff","#e41e1e","#ffffff","#1c2fa8","#ffffff","#6b0f6b","#ffffff"]},"legend":{"title":null,"orient":"none","legendX":144,"legendY":88.4}},
"shape":{"field":"name","type":"nominal","scale":{"domain":["G'-8°C-without saliva","G''-8°C-without saliva","G'-8°C-with saliva","G''-8°C-with saliva","G'-25°C-without saliva","G''-25°C-without saliva","G'-25°C-with saliva","G''-25°C-with saliva"],"range":["square","square","circle","circle","diamond","diamond","triangle-up","triangle-up"]},"legend":{"title":null,"orient":"none","legendX":144,"legendY":88.4}}}}
]},
{"width":277,"height":202,
"title":{"text":"c","anchor":"start","frame":"group","offset":-24,"dx":5},
"transform":[{"filter":"datum.p==='c'"},{"lookup":"s","from":{"data":{"name":"series"},"key":"s","fields":["name"]}}],
"encoding":{
"x":{"field":"f","type":"quantitative","scale":{"type":"log","domain":[0.05,200],"nice":false},"axis":{"title":"Frequency (rad/s)","values":[0.05,0.06,0.07,0.08,0.09,0.1,0.2,0.3,0.4,0.5,0.6,0.7,0.8,0.9,1,2,3,4,5,6,7,8,9,10,20,30,40,50,60,70,80,90,100,200],"labelExpr":"abs(log(datum.value)/LN10-round(log(datum.value)/LN10))<0.01?'10'+['⁻¹','⁰','¹','²','³'][round(log(datum.value)/LN10)+1]:''","labelFontSize":{"condition":{"test":"abs(log(datum.value)/LN10-round(log(datum.value)/LN10))<0.01","value":10.5},"value":0},"tickSize":{"condition":{"test":"abs(log(datum.value)/LN10-round(log(datum.value)/LN10))<0.01","value":5},"value":3}}},
"y":{"field":"v","type":"quantitative","scale":{"type":"log","domain":[0.49,2500],"nice":false},"axis":{"title":"G',G'' (Pa)","values":[0.5,0.6,0.7,0.8,0.9,1,2,3,4,5,6,7,8,9,10,20,30,40,50,60,70,80,90,100,200,300,400,500,600,700,800,900,1000,2000],"labelExpr":"abs(log(datum.value)/LN10-round(log(datum.value)/LN10))<0.01?'10'+['⁻¹','⁰','¹','²','³'][round(log(datum.value)/LN10)+1]:''","labelFontSize":{"condition":{"test":"abs(log(datum.value)/LN10-round(log(datum.value)/LN10))<0.01","value":10.5},"value":0},"tickSize":{"condition":{"test":"abs(log(datum.value)/LN10-round(log(datum.value)/LN10))<0.01","value":5},"value":3}}}},
"layer":[
{"mark":{"type":"line","strokeWidth":1},"encoding":{"color":{"field":"name","type":"nominal","sort":{"field":"s","op":"min"},"scale":{"range":["#1a1a1a","#777777","#ef3b3b","#f58a8a","#3344bb","#7b86dd","#8b2a8b","#cc88cc"]},"legend":{"title":null,"orient":"none","legendX":134,"legendY":88.1,"symbolType":"M-4,0H4","labelOpacity":0}}}},
{"mark":{"type":"point","size":30,"strokeWidth":1,"opacity":1},"encoding":{
"stroke":{"field":"name","type":"nominal","scale":{"domain":["G'-8°C-without saliva","G''-8°C-without saliva","G'-8°C-with saliva","G''-8°C-with saliva","G'-25°C-without saliva","G''-25°C-without saliva","G'-25°C-with saliva","G''-25°C-with saliva"],"range":["#000000","#555555","#e41e1e","#ee4a4a","#1c2fa8","#3040c0","#6b0f6b","#b050b0"]},"legend":{"title":null,"orient":"none","legendX":134,"legendY":88.1}},
"fill":{"field":"name","type":"nominal","scale":{"domain":["G'-8°C-without saliva","G''-8°C-without saliva","G'-8°C-with saliva","G''-8°C-with saliva","G'-25°C-without saliva","G''-25°C-without saliva","G'-25°C-with saliva","G''-25°C-with saliva"],"range":["#000000","#ffffff","#e41e1e","#ffffff","#1c2fa8","#ffffff","#6b0f6b","#ffffff"]},"legend":{"title":null,"orient":"none","legendX":134,"legendY":88.1}},
"shape":{"field":"name","type":"nominal","scale":{"domain":["G'-8°C-without saliva","G''-8°C-without saliva","G'-8°C-with saliva","G''-8°C-with saliva","G'-25°C-without saliva","G''-25°C-without saliva","G'-25°C-with saliva","G''-25°C-with saliva"],"range":["square","square","circle","circle","diamond","diamond","triangle-up","triangle-up"]},"legend":{"title":null,"orient":"none","legendX":134,"legendY":88.1}}}}
]},
{"width":275,"height":203,
"title":{"text":"d","anchor":"start","frame":"group","offset":-22,"dx":7},
"transform":[{"filter":"datum.p==='d'"},{"lookup":"s","from":{"data":{"name":"series"},"key":"s","fields":["name"]}}],
"encoding":{
"x":{"field":"f","type":"quantitative","scale":{"type":"log","domain":[0.05,200],"nice":false},"axis":{"title":"Frequency (rad/s)","values":[0.05,0.06,0.07,0.08,0.09,0.1,0.2,0.3,0.4,0.5,0.6,0.7,0.8,0.9,1,2,3,4,5,6,7,8,9,10,20,30,40,50,60,70,80,90,100,200],"labelExpr":"abs(log(datum.value)/LN10-round(log(datum.value)/LN10))<0.01?'10'+['⁻¹','⁰','¹','²','³'][round(log(datum.value)/LN10)+1]:''","labelFontSize":{"condition":{"test":"abs(log(datum.value)/LN10-round(log(datum.value)/LN10))<0.01","value":10.5},"value":0},"tickSize":{"condition":{"test":"abs(log(datum.value)/LN10-round(log(datum.value)/LN10))<0.01","value":5},"value":3}}},
"y":{"field":"v","type":"quantitative","scale":{"type":"log","domain":[0.1,1400],"nice":false},"axis":{"title":"G',G'' (Pa)","values":[0.1,0.2,0.3,0.4,0.5,0.6,0.7,0.8,0.9,1,2,3,4,5,6,7,8,9,10,20,30,40,50,60,70,80,90,100,200,300,400,500,600,700,800,900,1000],"labelExpr":"abs(log(datum.value)/LN10-round(log(datum.value)/LN10))<0.01?'10'+['⁻¹','⁰','¹','²','³'][round(log(datum.value)/LN10)+1]:''","labelFontSize":{"condition":{"test":"abs(log(datum.value)/LN10-round(log(datum.value)/LN10))<0.01","value":10.5},"value":0},"tickSize":{"condition":{"test":"abs(log(datum.value)/LN10-round(log(datum.value)/LN10))<0.01","value":5},"value":3}}}},
"layer":[
{"mark":{"type":"line","strokeWidth":1},"encoding":{"color":{"field":"name","type":"nominal","sort":{"field":"s","op":"min"},"scale":{"range":["#1a1a1a","#777777","#ef3b3b","#f58a8a","#3344bb","#7b86dd","#8b2a8b","#cc88cc"]},"legend":{"title":null,"orient":"none","legendX":150,"legendY":88.1,"symbolType":"M-4,0H4","labelOpacity":0}}}},
{"mark":{"type":"point","size":30,"strokeWidth":1,"opacity":1},"encoding":{
"stroke":{"field":"name","type":"nominal","scale":{"domain":["G'-8°C-without saliva","G''-8°C-without saliva","G'-8°C-with saliva","G''-8°C-with saliva","G'-25°C-without saliva","G''-25°C-without saliva","G'-25°C-with saliva","G''-25°C-with saliva"],"range":["#000000","#555555","#e41e1e","#ee4a4a","#1c2fa8","#3040c0","#6b0f6b","#b050b0"]},"legend":{"title":null,"orient":"none","legendX":150,"legendY":88.1}},
"fill":{"field":"name","type":"nominal","scale":{"domain":["G'-8°C-without saliva","G''-8°C-without saliva","G'-8°C-with saliva","G''-8°C-with saliva","G'-25°C-without saliva","G''-25°C-without saliva","G'-25°C-with saliva","G''-25°C-with saliva"],"range":["#000000","#ffffff","#e41e1e","#ffffff","#1c2fa8","#ffffff","#6b0f6b","#ffffff"]},"legend":{"title":null,"orient":"none","legendX":150,"legendY":88.1}},
"shape":{"field":"name","type":"nominal","scale":{"domain":["G'-8°C-without saliva","G''-8°C-without saliva","G'-8°C-with saliva","G''-8°C-with saliva","G'-25°C-without saliva","G''-25°C-without saliva","G'-25°C-with saliva","G''-25°C-with saliva"],"range":["square","square","circle","circle","diamond","diamond","triangle-up","triangle-up"]},"legend":{"title":null,"orient":"none","legendX":150,"legendY":88.1}}}}
]},
{"width":277,"height":202,
"title":{"text":"e","anchor":"start","frame":"group","offset":-17,"dx":5},
"transform":[{"filter":"datum.p==='e'"},{"lookup":"s","from":{"data":{"name":"series"},"key":"s","fields":["name"]}}],
"encoding":{
"x":{"field":"f","type":"quantitative","scale":{"type":"log","domain":[0.05,200],"nice":false},"axis":{"title":"Frequency (rad/s)","values":[0.05,0.06,0.07,0.08,0.09,0.1,0.2,0.3,0.4,0.5,0.6,0.7,0.8,0.9,1,2,3,4,5,6,7,8,9,10,20,30,40,50,60,70,80,90,100,200],"labelExpr":"abs(log(datum.value)/LN10-round(log(datum.value)/LN10))<0.01?'10'+['⁻¹','⁰','¹','²','³'][round(log(datum.value)/LN10)+1]:''","labelFontSize":{"condition":{"test":"abs(log(datum.value)/LN10-round(log(datum.value)/LN10))<0.01","value":10.5},"value":0},"tickSize":{"condition":{"test":"abs(log(datum.value)/LN10-round(log(datum.value)/LN10))<0.01","value":5},"value":3}}},
"y":{"field":"v","type":"quantitative","scale":{"type":"log","domain":[0.1,755],"nice":false},"axis":{"title":"G',G'' (Pa)","values":[0.1,0.2,0.3,0.4,0.5,0.6,0.7,0.8,0.9,1,2,3,4,5,6,7,8,9,10,20,30,40,50,60,70,80,90,100,200,300,400,500,600,700],"labelExpr":"abs(log(datum.value)/LN10-round(log(datum.value)/LN10))<0.01?'10'+['⁻¹','⁰','¹','²','³'][round(log(datum.value)/LN10)+1]:''","labelFontSize":{"condition":{"test":"abs(log(datum.value)/LN10-round(log(datum.value)/LN10))<0.01","value":10.5},"value":0},"tickSize":{"condition":{"test":"abs(log(datum.value)/LN10-round(log(datum.value)/LN10))<0.01","value":5},"value":3}}}},
"layer":[
{"mark":{"type":"line","strokeWidth":1},"encoding":{"color":{"field":"name","type":"nominal","sort":{"field":"s","op":"min"},"scale":{"range":["#1a1a1a","#777777","#ef3b3b","#f58a8a","#3344bb","#7b86dd","#8b2a8b","#cc88cc"]},"legend":{"title":null,"orient":"none","legendX":143,"legendY":86,"symbolType":"M-4,0H4","labelOpacity":0}}}},
{"mark":{"type":"point","size":30,"strokeWidth":1,"opacity":1},"encoding":{
"stroke":{"field":"name","type":"nominal","scale":{"domain":["G'-8°C-without saliva","G''-8°C-without saliva","G'-8°C-with saliva","G''-8°C-with saliva","G'-25°C-without saliva","G''-25°C-without saliva","G'-25°C-with saliva","G''-25°C-with saliva"],"range":["#000000","#555555","#e41e1e","#ee4a4a","#1c2fa8","#3040c0","#6b0f6b","#b050b0"]},"legend":{"title":null,"orient":"none","legendX":143,"legendY":86}},
"fill":{"field":"name","type":"nominal","scale":{"domain":["G'-8°C-without saliva","G''-8°C-without saliva","G'-8°C-with saliva","G''-8°C-with saliva","G'-25°C-without saliva","G''-25°C-without saliva","G'-25°C-with saliva","G''-25°C-with saliva"],"range":["#000000","#ffffff","#e41e1e","#ffffff","#1c2fa8","#ffffff","#6b0f6b","#ffffff"]},"legend":{"title":null,"orient":"none","legendX":143,"legendY":86}},
"shape":{"field":"name","type":"nominal","scale":{"domain":["G'-8°C-without saliva","G''-8°C-without saliva","G'-8°C-with saliva","G''-8°C-with saliva","G'-25°C-without saliva","G''-25°C-without saliva","G'-25°C-with saliva","G''-25°C-with saliva"],"range":["square","square","circle","circle","diamond","diamond","triangle-up","triangle-up"]},"legend":{"title":null,"orient":"none","legendX":143,"legendY":86}}}}
]},
{"width":262,"height":206,
"title":{"text":"f","anchor":"start","frame":"group","offset":-34,"dx":9},
"transform":[{"filter":"datum.p==='f'"},{"lookup":"s","from":{"data":{"name":"series"},"key":"s","fields":["name"]}}],
"encoding":{
"x":{"field":"f","type":"quantitative","scale":{"type":"log","domain":[0.05,200],"nice":false},"axis":{"title":"Frequency (rad/s)","values":[0.05,0.06,0.07,0.08,0.09,0.1,0.2,0.3,0.4,0.5,0.6,0.7,0.8,0.9,1,2,3,4,5,6,7,8,9,10,20,30,40,50,60,70,80,90,100,200],"labelExpr":"abs(log(datum.value)/LN10-round(log(datum.value)/LN10))<0.01?'10'+['⁻¹','⁰','¹','²','³'][round(log(datum.value)/LN10)+1]:''","labelFontSize":{"condition":{"test":"abs(log(datum.value)/LN10-round(log(datum.value)/LN10))<0.01","value":10.5},"value":0},"tickSize":{"condition":{"test":"abs(log(datum.value)/LN10-round(log(datum.value)/LN10))<0.01","value":5},"value":3}}},
"y":{"field":"v","type":"quantitative","scale":{"type":"log","domain":[1,1420],"nice":false},"axis":{"title":"G',G'' (Pa)","values":[1,2,3,4,5,6,7,8,9,10,20,30,40,50,60,70,80,90,100,200,300,400,500,600,700,800,900,1000],"labelExpr":"abs(log(datum.value)/LN10-round(log(datum.value)/LN10))<0.01?'10'+['⁻¹','⁰','¹','²','³'][round(log(datum.value)/LN10)+1]:''","labelFontSize":{"condition":{"test":"abs(log(datum.value)/LN10-round(log(datum.value)/LN10))<0.01","value":10.5},"value":0},"tickSize":{"condition":{"test":"abs(log(datum.value)/LN10-round(log(datum.value)/LN10))<0.01","value":5},"value":3}}}},
"layer":[
{"mark":{"type":"line","strokeWidth":1},"encoding":{"color":{"field":"name","type":"nominal","sort":{"field":"s","op":"min"},"scale":{"range":["#1a1a1a","#777777","#ef3b3b","#f58a8a","#3344bb","#7b86dd","#8b2a8b","#cc88cc"]},"legend":{"title":null,"orient":"none","legendX":145,"legendY":88.7,"symbolType":"M-4,0H4","labelOpacity":0}}}},
{"mark":{"type":"point","size":30,"strokeWidth":1,"opacity":1},"encoding":{
"stroke":{"field":"name","type":"nominal","scale":{"domain":["G'-8°C-without saliva","G''-8°C-without saliva","G'-8°C-with saliva","G''-8°C-with saliva","G'-25°C-without saliva","G''-25°C-without saliva","G'-25°C-with saliva","G''-25°C-with saliva"],"range":["#000000","#555555","#e41e1e","#ee4a4a","#1c2fa8","#3040c0","#6b0f6b","#b050b0"]},"legend":{"title":null,"orient":"none","legendX":145,"legendY":88.7}},
"fill":{"field":"name","type":"nominal","scale":{"domain":["G'-8°C-without saliva","G''-8°C-without saliva","G'-8°C-with saliva","G''-8°C-with saliva","G'-25°C-without saliva","G''-25°C-without saliva","G'-25°C-with saliva","G''-25°C-with saliva"],"range":["#000000","#ffffff","#e41e1e","#ffffff","#1c2fa8","#ffffff","#6b0f6b","#ffffff"]},"legend":{"title":null,"orient":"none","legendX":145,"legendY":88.7}},
"shape":{"field":"name","type":"nominal","scale":{"domain":["G'-8°C-without saliva","G''-8°C-without saliva","G'-8°C-with saliva","G''-8°C-with saliva","G'-25°C-without saliva","G''-25°C-without saliva","G'-25°C-with saliva","G''-25°C-with saliva"],"range":["square","square","circle","circle","diamond","diamond","triangle-up","triangle-up"]},"legend":{"title":null,"orient":"none","legendX":145,"legendY":88.7}}}}
]}
],
"config":{
"font":"Liberation Sans",
"view":{"stroke":null},
"title":{"font":"Liberation Sans","fontSize":18,"fontWeight":"bold","color":"#111"},
"axis":{"grid":false,"domainColor":"#333","domainWidth":1.5,"tickColor":"#333","tickWidth":1,"labelFont":"Liberation Sans","labelColor":"#111","labelPadding":1,"labelOverlap":false,"labelFlush":false,"titleFont":"Liberation Sans","titleFontSize":14,"titleFontWeight":"bold","titleColor":"#111"},
"axisX":{"titlePadding":3},
"axisY":{"titlePadding":2},
"legend":{"labelFont":"Liberation Sans","labelFontSize":11.5,"labelColor":"#111","symbolSize":25,"symbolStrokeWidth":1,"labelOffset":10,"rowPadding":1.2,"padding":0}
}
}
